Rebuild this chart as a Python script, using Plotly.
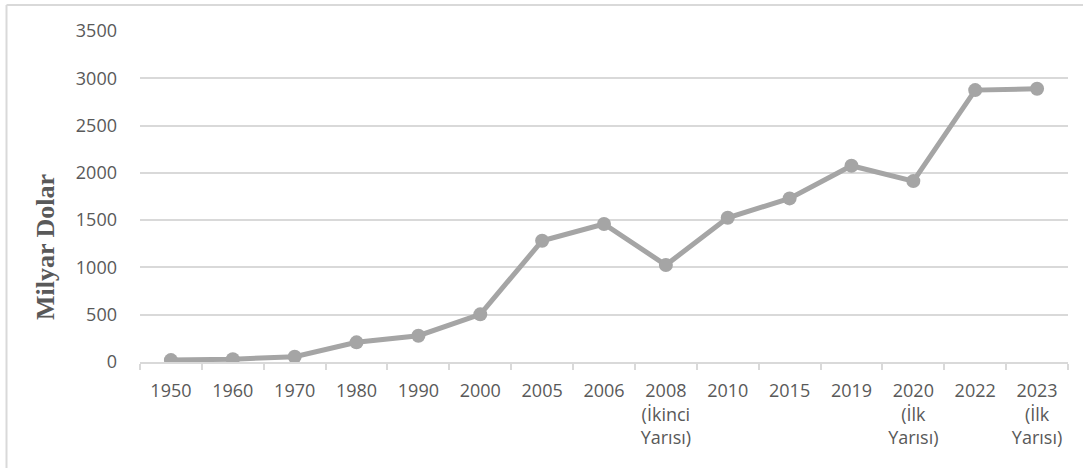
import plotly.graph_objects as go

years = ["1950", "1960", "1970", "1980", "1990", "2000", "2005", "2006",
         "2008<br>(İkinci<br>Yarısı)", "2010", "2015", "2019",
         "2020<br>(İlk<br>Yarısı)", "2022", "2023<br>(İlk<br>Yarısı)"]
values = [20, 30, 55, 208, 278, 504, 1282, 1459, 1025, 1525, 1730, 2075, 1913, 2875, 2889]

y_ticks = [0, 500, 1000, 1500, 2000, 2500, 3000, 3500]

line_gray = "#A5A5A5"
grid_gray = "#D9D9D9"
text_gray = "#595959"

fig = go.Figure()

fig.add_trace(go.Scatter(
    x=years,
    y=values,
    mode="lines+markers",
    line=dict(color=line_gray, width=5),
    marker=dict(color=line_gray, size=14),
    showlegend=False,
))

# plot area: x 140..1068, y 31..362 in pixels
L, R, T, B = 140, 15, 31, 106
W, H = 1083, 468
pw, ph = W - L - R, H - T - B

fig.update_layout(
    width=W, height=H,
    margin=dict(l=L, r=R, t=T, b=B),
    paper_bgcolor="white",
    plot_bgcolor="white",
    font=dict(family="Open Sans", size=18, color=text_gray),
)

fig.update_xaxes(
    type="category",
    showgrid=False,
    showline=True, linecolor=grid_gray, linewidth=1.5,
    ticks="outside", tickson="boundaries", ticklen=6, tickcolor=grid_gray, tickwidth=1.5,
    ticklabelstandoff=12,
    tickfont=dict(family="Open Sans", size=18, color=text_gray),
    range=[-0.5, len(years) - 0.5],
)

fig.update_yaxes(
    range=[0, 3500],
    tickvals=y_ticks,
    showgrid=True, gridcolor=grid_gray, gridwidth=1.5,
    zeroline=False,
    showline=False,
    ticks="",
    ticklabelstandoff=22,
    tickfont=dict(family="Open Sans", size=18, color=text_gray),
)

# y axis title, placed lower than the plot-area middle as in the original
fig.add_annotation(
    text="<b>Milyar Dolar</b>",
    xref="paper", yref="paper",
    x=(45 - L) / pw, y=(H - B - 247) / ph,
    xanchor="center", yanchor="middle",
    textangle=-90, showarrow=False,
    font=dict(family="Liberation Serif", size=26, color=text_gray),
)

# chart border (left and top edges visible)
bx = (6.5 - L) / pw
by = 1 + (T - 5) / ph
fig.add_shape(type="line", xref="paper", yref="paper",
              x0=bx, x1=bx, y0=by, y1=-(H - T - ph) / ph,
              line=dict(color=grid_gray, width=2))
fig.add_shape(type="line", xref="paper", yref="paper",
              x0=bx, x1=1 + R / pw, y0=by, y1=by,
              line=dict(color=grid_gray, width=2))

fig.write_html("out.html", config={"displayModeBar": False},
               post_script="document.body.style.margin='0';")
